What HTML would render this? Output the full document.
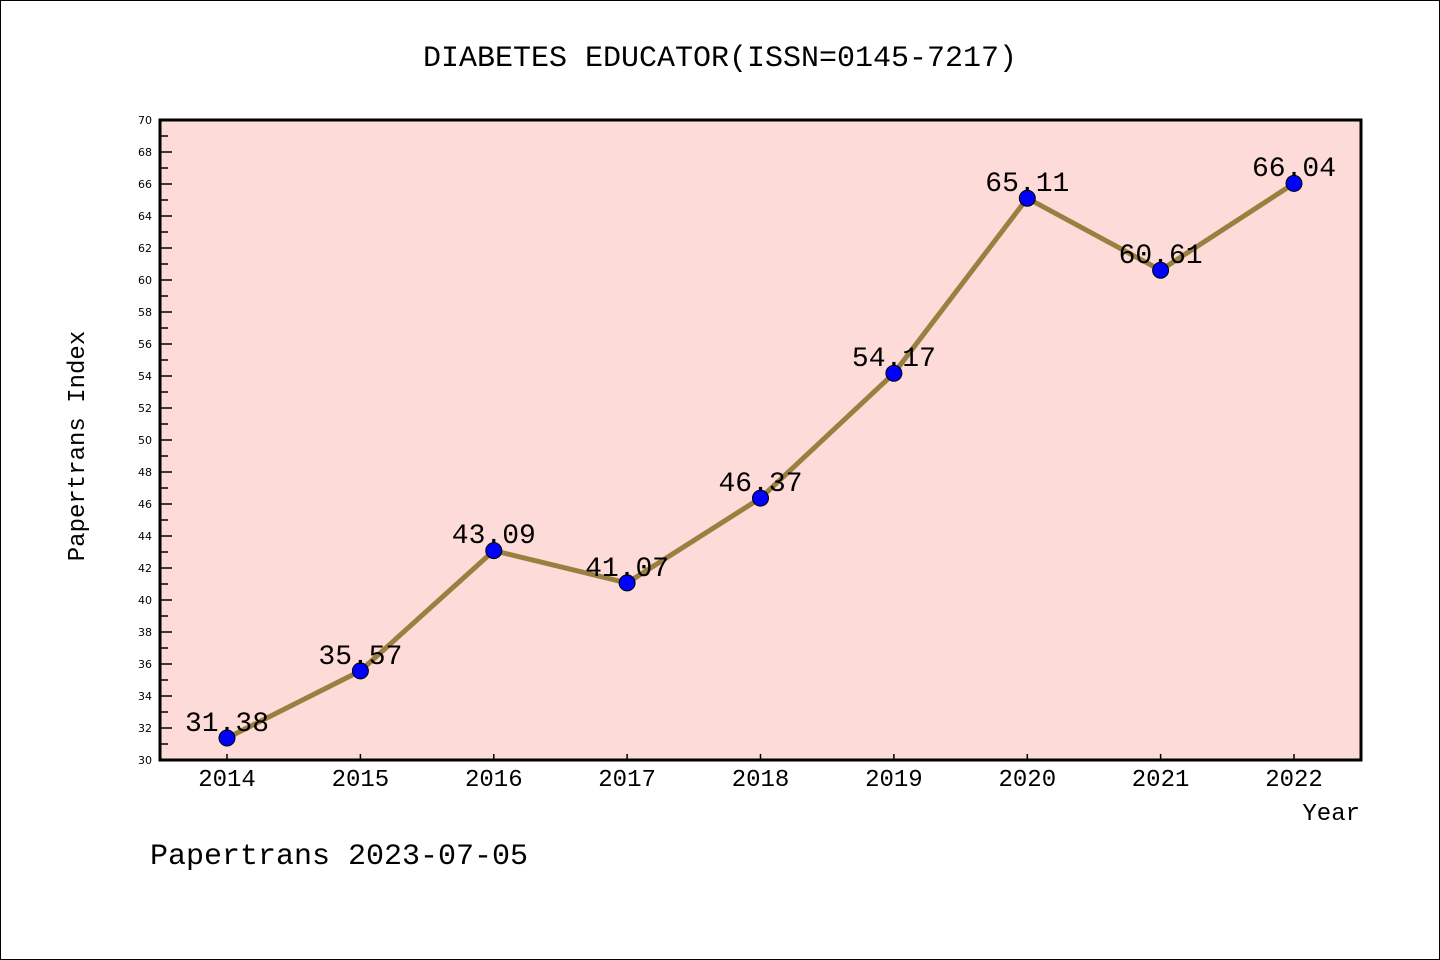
<!DOCTYPE html>
<html><head><meta charset="utf-8"><style>body{margin:0;background:#fff}svg{display:block}.m{font-family:"WenQuanYi Zen Hei Mono","WenQuanYi Zen Hei","Liberation Mono",monospace}</style></head><body>
<svg width="1440" height="960" xmlns="http://www.w3.org/2000/svg">
<rect x="0.5" y="0.5" width="1439" height="959" fill="#fff" stroke="#000"/>
<g class="m">
<text x="720" y="66" font-size="30" text-anchor="middle">DIABETES EDUCATOR(ISSN=0145-7217)</text>
</g>
<rect x="160" y="120" width="1201" height="640" fill="#fddbd8"/>
<g stroke="#000" stroke-width="1.5">
<line x1="160" y1="120" x2="172" y2="120"/><line x1="160" y1="136" x2="168" y2="136"/>
<line x1="160" y1="152" x2="172" y2="152"/><line x1="160" y1="168" x2="168" y2="168"/>
<line x1="160" y1="184" x2="172" y2="184"/><line x1="160" y1="200" x2="168" y2="200"/>
<line x1="160" y1="216" x2="172" y2="216"/><line x1="160" y1="232" x2="168" y2="232"/>
<line x1="160" y1="248" x2="172" y2="248"/><line x1="160" y1="264" x2="168" y2="264"/>
<line x1="160" y1="280" x2="172" y2="280"/><line x1="160" y1="296" x2="168" y2="296"/>
<line x1="160" y1="312" x2="172" y2="312"/><line x1="160" y1="328" x2="168" y2="328"/>
<line x1="160" y1="344" x2="172" y2="344"/><line x1="160" y1="360" x2="168" y2="360"/>
<line x1="160" y1="376" x2="172" y2="376"/><line x1="160" y1="392" x2="168" y2="392"/>
<line x1="160" y1="408" x2="172" y2="408"/><line x1="160" y1="424" x2="168" y2="424"/>
<line x1="160" y1="440" x2="172" y2="440"/><line x1="160" y1="456" x2="168" y2="456"/>
<line x1="160" y1="472" x2="172" y2="472"/><line x1="160" y1="488" x2="168" y2="488"/>
<line x1="160" y1="504" x2="172" y2="504"/><line x1="160" y1="520" x2="168" y2="520"/>
<line x1="160" y1="536" x2="172" y2="536"/><line x1="160" y1="552" x2="168" y2="552"/>
<line x1="160" y1="568" x2="172" y2="568"/><line x1="160" y1="584" x2="168" y2="584"/>
<line x1="160" y1="600" x2="172" y2="600"/><line x1="160" y1="616" x2="168" y2="616"/>
<line x1="160" y1="632" x2="172" y2="632"/><line x1="160" y1="648" x2="168" y2="648"/>
<line x1="160" y1="664" x2="172" y2="664"/><line x1="160" y1="680" x2="168" y2="680"/>
<line x1="160" y1="696" x2="172" y2="696"/><line x1="160" y1="712" x2="168" y2="712"/>
<line x1="160" y1="728" x2="172" y2="728"/><line x1="160" y1="744" x2="168" y2="744"/>
</g>
<g stroke="#000" stroke-width="1.5">
<line x1="227" y1="760" x2="227" y2="754"/><line x1="360.4" y1="760" x2="360.4" y2="754"/><line x1="493.8" y1="760" x2="493.8" y2="754"/><line x1="627.1" y1="760" x2="627.1" y2="754"/><line x1="760.5" y1="760" x2="760.5" y2="754"/><line x1="893.9" y1="760" x2="893.9" y2="754"/><line x1="1027.3" y1="760" x2="1027.3" y2="754"/><line x1="1160.6" y1="760" x2="1160.6" y2="754"/><line x1="1294" y1="760" x2="1294" y2="754"/>
</g>
<rect x="160" y="120" width="1201" height="640" fill="none" stroke="#000" stroke-width="3"/>
<g font-size="11" text-anchor="end" font-family="'DejaVu Sans',sans-serif">
<text x="152" y="124">70</text><text x="152" y="156">68</text><text x="152" y="188">66</text><text x="152" y="220">64</text><text x="152" y="252">62</text><text x="152" y="284">60</text><text x="152" y="316">58</text><text x="152" y="348">56</text><text x="152" y="380">54</text><text x="152" y="412">52</text><text x="152" y="444">50</text><text x="152" y="476">48</text><text x="152" y="508">46</text><text x="152" y="540">44</text><text x="152" y="572">42</text><text x="152" y="604">40</text><text x="152" y="636">38</text><text x="152" y="668">36</text><text x="152" y="700">34</text><text x="152" y="732">32</text><text x="152" y="764">30</text>
</g>
<g class="m" font-size="24" text-anchor="middle">
<text x="227" y="786">2014</text><text x="360.4" y="786">2015</text><text x="493.8" y="786">2016</text><text x="627.1" y="786">2017</text><text x="760.5" y="786">2018</text><text x="893.9" y="786">2019</text><text x="1027.3" y="786">2020</text><text x="1160.6" y="786">2021</text><text x="1294" y="786">2022</text>
</g>
<g class="m">
<text x="1360" y="820" font-size="24" text-anchor="end">Year</text>
<text transform="translate(84,446) rotate(-90)" font-size="24" text-anchor="middle">Papertrans Index</text>
<text x="150" y="864" font-size="30">Papertrans 2023-07-05</text>
</g>
<polyline fill="none" stroke="#9a8040" stroke-width="5" points="227,738.0 360.4,670.9 493.8,550.6 627.1,582.9 760.5,498.1 893.9,373.3 1027.3,198.2 1160.6,270.2 1294,183.4"/>
<g fill="#0000ff" stroke="#000" stroke-width="1">
<circle cx="227" cy="738.0" r="8"/><circle cx="360.4" cy="670.9" r="8"/><circle cx="493.8" cy="550.6" r="8"/><circle cx="627.1" cy="582.9" r="8"/><circle cx="760.5" cy="498.1" r="8"/><circle cx="893.9" cy="373.3" r="8"/><circle cx="1027.3" cy="198.2" r="8"/><circle cx="1160.6" cy="270.2" r="8"/><circle cx="1294" cy="183.4" r="8"/>
</g>
<g class="m" font-size="28" text-anchor="middle">
<text x="227" y="731">31.38</text><text x="360.4" y="664">35.57</text><text x="493.8" y="543">43.09</text><text x="627.1" y="576">41.07</text><text x="760.5" y="491">46.37</text><text x="893.9" y="366">54.17</text><text x="1027.3" y="191">65.11</text><text x="1160.6" y="263">60.61</text><text x="1294" y="176">66.04</text>
</g>
</svg>
</body></html>
